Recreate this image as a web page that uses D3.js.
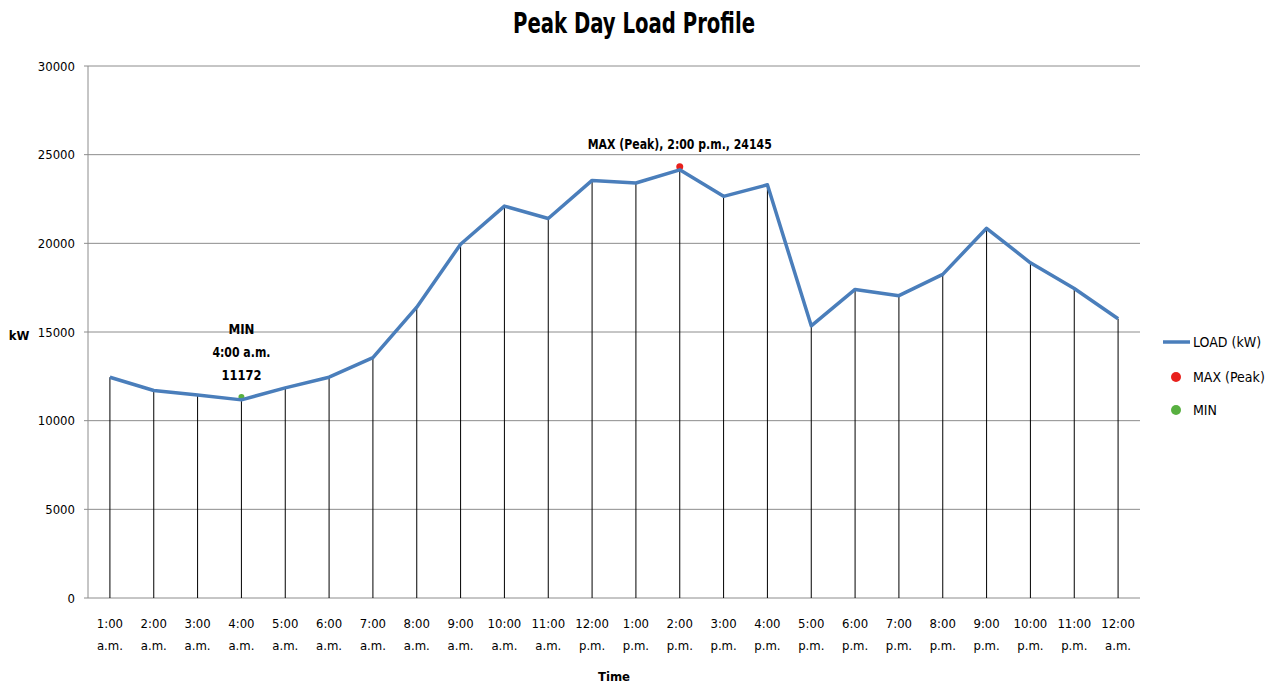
<!DOCTYPE html>
<html>
<head>
<meta charset="utf-8">
<script src="https://cdn.jsdelivr.net/npm/d3@7"></script>
<style>
  body { margin: 0; background: #fff; }
  text { font-family: "Liberation Sans Narrow", "DejaVu Sans Condensed", "Open Sans", sans-serif; }
</style>
</head>
<body>
<div id="canvas"></div>
<script>
// hours and load values
var hours = ["1:00", "2:00", "3:00", "4:00", "5:00", "6:00", "7:00", "8:00", "9:00", "10:00", "11:00", "12:00",
             "1:00", "2:00", "3:00", "4:00", "5:00", "6:00", "7:00", "8:00", "9:00", "10:00", "11:00", "12:00"];
var periods = ["a.m.", "a.m.", "a.m.", "a.m.", "a.m.", "a.m.", "a.m.", "a.m.", "a.m.", "a.m.", "a.m.", "p.m.",
               "p.m.", "p.m.", "p.m.", "p.m.", "p.m.", "p.m.", "p.m.", "p.m.", "p.m.", "p.m.", "p.m.", "a.m."];
var load = [12450, 11700, 11450, 11172, 11850, 12450, 13550, 16400, 19950, 22100, 21400, 23550,
            23400, 24145, 22650, 23300, 15350, 17400, 17050, 18250, 20850, 18900, 17450, 15750];
var yTicks = [0, 5000, 10000, 15000, 20000, 25000, 30000];
var maxIndex = 13, minIndex = 3;

var winWidth = 1268, winHeight = 684;
const margin = { top: 66, right: 128, bottom: 86, left: 88 },
  width = winWidth - margin.left - margin.right,
  height = winHeight - margin.top - margin.bottom;

var svg = d3.select("#canvas").append("svg")
  .attr("width", winWidth)
  .attr("height", winHeight);

var g = svg.append("g")
  .attr("transform", "translate(" + margin.left + "," + margin.top + ")");

var x = d3.scaleBand()
  .domain(d3.range(hours.length))
  .range([0, width]);
var y = d3.scaleLinear()
  .domain([0, 30000])
  .range([height, 0]);

function cx(i) { return x(i) + x.bandwidth() / 2; }

// gridlines
g.append("g").selectAll("line")
  .data(yTicks)
  .enter().append("line")
  .attr("x1", -4).attr("x2", width)
  .attr("y1", function(d) { return y(d); })
  .attr("y2", function(d) { return y(d); })
  .attr("stroke", "#8c8c8c")
  .attr("stroke-width", 1);

// y axis line
g.append("line")
  .attr("x1", 0).attr("x2", 0)
  .attr("y1", 0).attr("y2", height)
  .attr("stroke", "#8c8c8c");

g.append("g").selectAll("text")
  .data(yTicks)
  .enter().append("text")
  .attr("x", -13)
  .attr("y", function(d) { return y(d); })
  .attr("dy", "0.35em")
  .attr("text-anchor", "end")
  .attr("font-size", 13)
  .text(function(d) { return d; });

// drop lines
g.append("g").selectAll("line")
  .data(load)
  .enter().append("line")
  .attr("x1", function(d, i) { return cx(i); })
  .attr("x2", function(d, i) { return cx(i); })
  .attr("y1", function(d) { return y(d); })
  .attr("y2", height)
  .attr("stroke", "#000")
  .attr("stroke-width", 1);

// x labels
var xl = g.append("g").selectAll("text")
  .data(hours)
  .enter().append("text")
  .attr("x", function(d, i) { return cx(i); })
  .attr("y", height + 30)
  .attr("text-anchor", "middle")
  .attr("font-size", 13);
xl.append("tspan").text(function(d) { return d; });
xl.append("tspan")
  .attr("x", function(d, i) { return cx(i); })
  .attr("dy", 22)
  .text(function(d, i) { return periods[i]; });

// markers (under the line)
g.append("circle")
  .attr("cx", cx(maxIndex)).attr("cy", y(load[maxIndex]) - 3)
  .attr("r", 3.5).attr("fill", "#e8201c");
g.append("circle")
  .attr("cx", cx(minIndex)).attr("cy", y(load[minIndex]) - 3)
  .attr("r", 3).attr("fill", "#58b040");

var line = d3.line()
  .x(function(d, i) { return cx(i); })
  .y(function(d) { return y(d); });

g.append("path")
  .datum(load)
  .attr("d", line)
  .attr("fill", "none")
  .attr("stroke", "#4a7ebb")
  .attr("stroke-width", 3.5)
  .attr("stroke-linejoin", "round");

// annotations
g.append("text")
  .attr("x", cx(maxIndex))
  .attr("y", y(load[maxIndex]) - 21)
  .attr("text-anchor", "middle")
  .attr("font-size", 14)
  .attr("font-weight", "bold")
  .attr("textLength", 184)
  .attr("lengthAdjust", "spacingAndGlyphs")
  .text("MAX (Peak), 2:00 p.m., " + load[maxIndex]);

var minLabel = ["MIN", "4:00 a.m.", String(load[minIndex])];
var minWidths = [26, 58, 40];
g.append("g").selectAll("text")
  .data(minLabel)
  .enter().append("text")
  .attr("x", cx(minIndex))
  .attr("y", function(d, i) { return y(load[minIndex]) - 66 + i * 23; })
  .attr("text-anchor", "middle")
  .attr("font-size", 14)
  .attr("font-weight", "bold")
  .attr("textLength", function(d, i) { return minWidths[i]; })
  .attr("lengthAdjust", "spacingAndGlyphs")
  .text(function(d) { return d; });

// titles
svg.append("text")
  .attr("x", 634).attr("y", 33)
  .attr("text-anchor", "middle")
  .attr("font-size", 28)
  .attr("font-weight", "bold")
  .attr("textLength", 242)
  .attr("lengthAdjust", "spacingAndGlyphs")
  .text("Peak Day Load Profile");

svg.append("text")
  .attr("x", 19).attr("y", 340)
  .attr("text-anchor", "middle")
  .attr("font-size", 13)
  .attr("font-weight", "bold")
  .text("kW");

svg.append("text")
  .attr("x", margin.left + width / 2).attr("y", 681)
  .attr("text-anchor", "middle")
  .attr("font-size", 13)
  .attr("font-weight", "bold")
  .text("Time");

// legend
var legend = svg.append("g").attr("transform", "translate(1163,342)");
legend.append("line")
  .attr("x1", 0).attr("x2", 27).attr("y1", 0).attr("y2", 0)
  .attr("stroke", "#4a7ebb").attr("stroke-width", 3.5);
legend.append("text").attr("x", 30).attr("y", 0).attr("dy", "0.35em")
  .attr("font-size", 14).text("LOAD (kW)");
legend.append("circle").attr("cx", 13).attr("cy", 35).attr("r", 5).attr("fill", "#e8201c");
legend.append("text").attr("x", 30).attr("y", 35).attr("dy", "0.35em")
  .attr("font-size", 14).text("MAX (Peak)");
legend.append("circle").attr("cx", 13).attr("cy", 68).attr("r", 5).attr("fill", "#58b040");
legend.append("text").attr("x", 30).attr("y", 68).attr("dy", "0.35em")
  .attr("font-size", 14).text("MIN");
</script>
</body>
</html>
